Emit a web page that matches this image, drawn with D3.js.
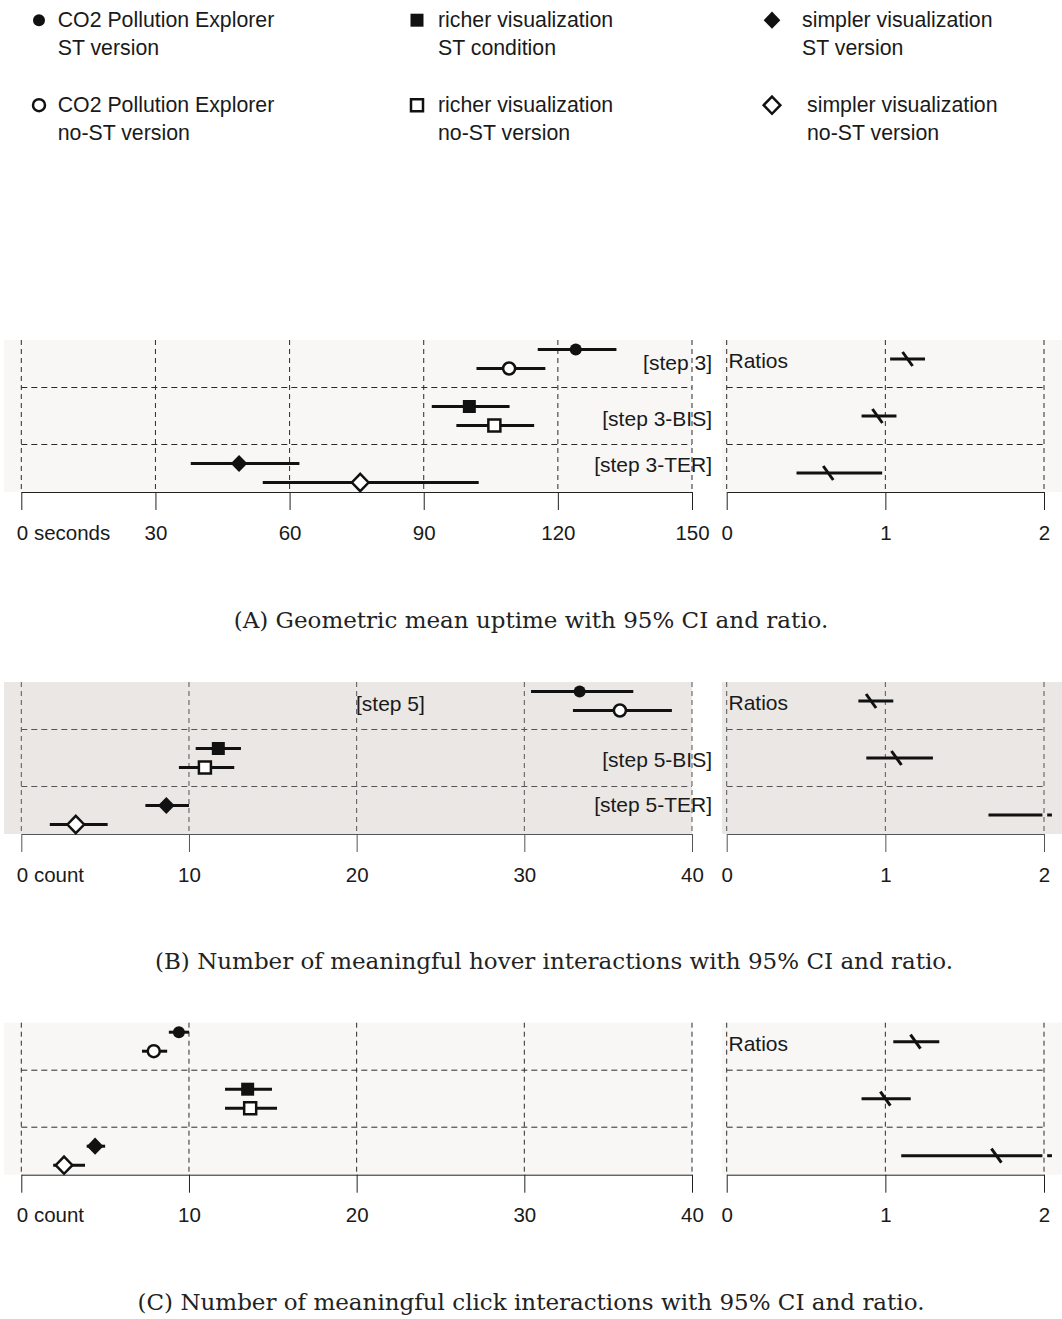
<!DOCTYPE html>
<html>
<head>
<meta charset="utf-8">
<title>Uptime and interactions with 95% CI and ratios</title>
<script src="https://d3js.org/d3.v7.min.js"></script>
<style>
body { margin: 0; background: #fff; }
svg text { font-family: "Liberation Sans", Arial, sans-serif; fill: #1a1a1a; }
svg text.caption { font-family: "DejaVu Serif", serif; fill: #222; }
</style>
</head>
<body>
<svg id="chart" width="1062" height="1319"></svg>

<script>
// legend
const legendNames = ["CO2 Pollution Explorer", "richer visualization", "simpler visualization"];
const legendST = ["ST version", "ST condition", "ST version"];
const legendNoST = ["no-ST version", "no-ST version", "no-ST version"];

// six series per panel: ST / no-ST for each version
const seriesShape = ["circle", "circle", "square", "square", "diamond", "diamond"];
const seriesFilled = [true, false, true, false, true, false];

// (A) uptime, seconds
const uptimeTicks = [0, 30, 60, 90, 120, 150];
const uptimeLabels = ["[step 3]", "[step 3-BIS]", "[step 3-TER]"];
const uptimeMean = [124.0, 109.1, 100.2, 105.8, 48.7, 75.8];
const uptimeLow = [115.5, 101.8, 91.8, 97.3, 37.9, 54.0];
const uptimeHigh = [133.1, 117.2, 109.2, 114.7, 62.2, 102.3];
const uptimeRatio = [1.14, 0.95, 0.64];
const uptimeRatioLow = [1.03, 0.85, 0.44];
const uptimeRatioHigh = [1.25, 1.07, 0.98];

// (B) hover interactions, count
const hoverTicks = [0, 10, 20, 30, 40];
const hoverLabels = ["[step 5]", "[step 5-BIS]", "[step 5-TER]"];
const hoverMean = [33.3, 35.7, 11.75, 10.95, 8.65, 3.25];
const hoverLow = [30.4, 32.9, 10.4, 9.4, 7.4, 1.7];
const hoverHigh = [36.5, 38.8, 13.1, 12.7, 10.0, 5.15];
const hoverRatio = [0.91, 1.07, 2.68];
const hoverRatioLow = [0.83, 0.88, 1.65];
const hoverRatioHigh = [1.05, 1.30, 4.4];

// (C) click interactions, count
const clickTicks = [0, 10, 20, 30, 40];
const clickLabels = ["", "", ""];
const clickMean = [9.4, 7.9, 13.5, 13.65, 4.4, 2.55];
const clickLow = [8.8, 7.2, 12.15, 12.15, 3.9, 1.9];
const clickHigh = [10.0, 8.7, 14.95, 15.25, 5.0, 3.8];
const clickRatio = [1.19, 1.0, 1.70];
const clickRatioLow = [1.05, 0.85, 1.10];
const clickRatioHigh = [1.34, 1.16, 2.7];

const ratioTicks = [0, 1, 2];
const captions = [
  "(A) Geometric mean uptime with 95% CI and ratio.",
  "(B) Number of meaningful hover interactions with 95% CI and ratio.",
  "(C) Number of meaningful click interactions with 95% CI and ratio."
];

const svg = d3.select("#chart");
const ink = "#111";

// rhombus symbol (d3's diamond is too narrow)
const rhombus = {
  draw(ctx, size) {
    const r = Math.sqrt(size / 2);
    ctx.moveTo(0, -r);
    ctx.lineTo(r * 0.97, 0);
    ctx.lineTo(0, r);
    ctx.lineTo(-r * 0.97, 0);
    ctx.closePath();
  }
};

function drawMarker(g, shape, filled, cx, cy) {
  let path;
  if (shape === "circle") {
    path = d3.symbol().type(d3.symbolCircle).size(Math.PI * 36)();
  } else if (shape === "square") {
    const a = filled ? 13 : 12;
    path = d3.symbol().type(d3.symbolSquare).size(a * a)();
  } else {
    const r = 8.6;
    path = d3.symbol().type(rhombus).size(2 * r * r)();
  }
  g.append("path")
    .attr("d", path)
    .attr("transform", `translate(${cx},${cy})`)
    .attr("fill", filled ? ink : "#fff")
    .attr("stroke", filled ? "none" : ink)
    .attr("stroke-width", filled ? 0 : 2.5);
}

// ---------- legend ----------
const legendX = [39, 417, 772];
const legendTextX = [[57.7, 57.7], [438, 438], [802, 807]];
const legend = svg.append("g");
legendNames.forEach((name, i) => {
  [0, 1].forEach(k => {
    const baseY = k === 0 ? 26.7 : 111.7;
    drawMarker(legend, seriesShape[i * 2], k === 0, legendX[i], baseY - 6.5);
    const tx = legendTextX[i][k];
    legend.append("text").attr("x", tx).attr("y", baseY)
      .attr("font-size", 21.3).text(name);
    legend.append("text").attr("x", tx).attr("y", baseY + 28.5)
      .attr("font-size", 21.3).text(k === 0 ? legendST[i] : legendNoST[i]);
  });
});

// ---------- panels ----------
const panels = [
  {top: 340, ticks: uptimeTicks, unit: "seconds", labels: uptimeLabels,
   mean: uptimeMean, low: uptimeLow, high: uptimeHigh,
   ratio: uptimeRatio, ratioLow: uptimeRatioLow, ratioHigh: uptimeRatioHigh,
   bg: "#f8f7f5", grid: "#2b2b2b", axis: "#222",
   labelPos: [{x: 712, anchor: "end", dy: 30}, {x: 712, anchor: "end", dy: 85.5}, {x: 712, anchor: "end", dy: 131.5}],
   caption: captions[0], capX: 531, capY: 628},
  {top: 682, ticks: hoverTicks, unit: "count", labels: hoverLabels,
   mean: hoverMean, low: hoverLow, high: hoverHigh,
   ratio: hoverRatio, ratioLow: hoverRatioLow, ratioHigh: hoverRatioHigh,
   bg: "#ebe7e4", grid: "#555", axis: "#555",
   labelPos: [{x: 356, anchor: "start", dy: 29}, {x: 712, anchor: "end", dy: 85}, {x: 712, anchor: "end", dy: 130}],
   caption: captions[1], capX: 554, capY: 969},
  {top: 1022.7, ticks: clickTicks, unit: "count", labels: clickLabels,
   mean: clickMean, low: clickLow, high: clickHigh,
   ratio: clickRatio, ratioLow: clickRatioLow, ratioHigh: clickRatioHigh,
   bg: "#f8f7f5", grid: "#2b2b2b", axis: "#222",
   labelPos: [{x: 712, anchor: "end", dy: 30}, {x: 712, anchor: "end", dy: 85.5}, {x: 712, anchor: "end", dy: 131.5}],
   caption: captions[2], capX: 531, capY: 1310}
];

const seriesRow = [0, 1, 3, 4, 6, 7];

panels.forEach(p => {
  const g = svg.append("g");
  const y = d3.scaleLinear().domain([0, 8]).range([p.top, p.top + 152]);
  const bottom = y(8);
  const x = d3.scaleLinear().domain([0, d3.max(p.ticks)]).range([21.3, 692]);
  const xr = d3.scaleLinear().domain([0, 2]).range([726.7, 1044]);

  // bands
  g.append("rect").attr("x", 4).attr("y", y(0)).attr("width", 692 - 4)
    .attr("height", bottom - y(0)).attr("fill", p.bg);
  g.append("rect").attr("x", 722).attr("y", y(0)).attr("width", 1062 - 722)
    .attr("height", bottom - y(0)).attr("fill", p.bg);

  // dashed grid
  [[x, p.ticks], [xr, ratioTicks]].forEach(([sc, ticks]) => {
    g.selectAll(null).data(ticks).join("line")
      .attr("x1", d => sc(d)).attr("x2", d => sc(d))
      .attr("y1", y(0)).attr("y2", bottom)
      .attr("stroke", p.grid).attr("stroke-width", 1).attr("stroke-dasharray", "5,4");
    g.selectAll(null).data([2.5, 5.5]).join("line")
      .attr("x1", sc.range()[0]).attr("x2", sc.range()[1])
      .attr("y1", d => y(d)).attr("y2", d => y(d))
      .attr("stroke", p.grid).attr("stroke-width", 1).attr("stroke-dasharray", "6,4");
  });

  // axes
  const axL = g.append("g").attr("transform", `translate(0,${bottom})`)
    .call(d3.axisBottom(x).tickValues(p.ticks).tickSize(18).tickPadding(15).tickSizeOuter(0));
  const axR = g.append("g").attr("transform", `translate(0,${bottom})`)
    .call(d3.axisBottom(xr).tickValues(ratioTicks).tickFormat(d3.format("d")).tickSize(18).tickPadding(15).tickSizeOuter(0));
  [axL, axR].forEach(ax => {
    ax.attr("font-family", null).attr("font-size", 20.5);
    ax.select(".domain").attr("stroke", p.axis);
    ax.selectAll(".tick line").attr("stroke", p.axis);
  });
  axL.selectAll(".tick text")
    .filter(d => d === 0)
    .attr("text-anchor", "start").attr("x", -5)
    .text(d => `${d} ${p.unit}`);

  // CI lines and markers
  p.mean.forEach((m, i) => {
    const cy = y(seriesRow[i] + 0.5);
    g.append("line")
      .attr("x1", x(p.low[i])).attr("x2", x(p.high[i]))
      .attr("y1", cy).attr("y2", cy)
      .attr("stroke", ink).attr("stroke-width", 3);
    drawMarker(g, seriesShape[i], seriesFilled[i], x(m), cy);
  });

  // group labels
  p.labels.forEach((lab, k) => {
    if (!lab) return;
    const lp = p.labelPos[k];
    g.append("text").attr("x", lp.x).attr("y", y(0) + lp.dy)
      .attr("text-anchor", lp.anchor).attr("font-size", 21).text(lab);
  });

  // ratios
  g.append("text").attr("x", 728.5).attr("y", y(0) + 28)
    .attr("font-size", 21).text("Ratios");
  const rMax = 2.05;
  p.ratio.forEach((r, k) => {
    const cy = y(3 * k + 1);
    const hi = p.ratioHigh[k];
    const segs = hi > rMax ? [[p.ratioLow[k], 1.99], [2.02, rMax]] : [[p.ratioLow[k], hi]];
    segs.forEach(([a, b]) => {
      g.append("line").attr("x1", xr(a)).attr("x2", xr(b))
        .attr("y1", cy).attr("y2", cy).attr("stroke", ink).attr("stroke-width", 3);
    });
    if (r <= rMax) {
      g.append("line")
        .attr("x1", xr(r) - 5).attr("x2", xr(r) + 5)
        .attr("y1", cy - 7).attr("y2", cy + 7)
        .attr("stroke", ink).attr("stroke-width", 3);
    }
  });

  // caption
  svg.append("text").attr("class", "caption")
    .attr("x", p.capX).attr("y", p.capY)
    .attr("text-anchor", "middle").attr("font-size", 23)
    .text(p.caption);
});
</script>
</body>
</html>
